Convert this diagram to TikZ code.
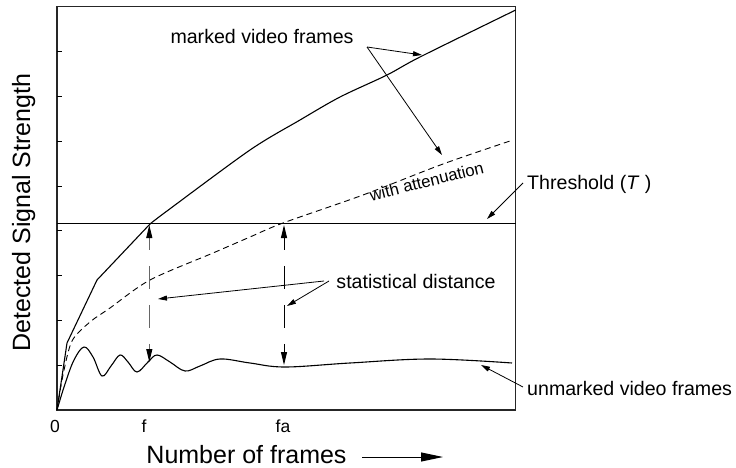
\documentclass[tikz,border=0pt]{standalone}
\usepackage{fontspec}
\setmainfont{Liberation Sans}
\usetikzlibrary{arrows.meta}
\begin{document}
\begin{tikzpicture}[x=1pt,y=-1pt,
  lbl/.style={inner sep=0pt, font=\fontsize{19.6}{22}\selectfont},
  axlbl/.style={inner sep=0pt, font=\fontsize{25}{30}\selectfont},
  ticklbl/.style={inner sep=0pt, font=\fontsize{17.5}{20}\selectfont},
  curve/.style={line width=1.1pt, line join=round},
  ann/.style={line width=0.8pt, -{Triangle[length=9pt,width=5pt]}},
  gaparrow/.style={line width=0.9pt, {Triangle[length=13pt,width=6pt,color=black]}-{Triangle[length=13pt,width=6pt,color=black]}, dash pattern=on 23pt off 16pt, dash phase=11pt},
]
\useasboundingbox (0,0) rectangle (736,468);
% frame
\draw[line width=1.4pt, draw=black!85] (57,6.5) rectangle (515.7,410);
\foreach \k in {1,...,8} \draw[line width=1pt] (57,{410-44.8*\k}) -- ++(5,0);
% threshold
\coordinate (thL) at (57,223.8);
\coordinate (thR) at (515.7,223.8);
\draw[line width=1.2pt] (thL) -- (thR);
% marked curve
\draw[curve] (57,410) -- (67,343) -- (97,280) -- (150,224)
  plot[smooth, tension=0.5] coordinates {(150,224) (167,211) (250,150) (300,120) (340,97) (387,75) (420,57) (515.7,10)};
% attenuated curve
\draw[curve, line width=0.9pt, dash pattern=on 6pt off 4pt]
  plot[smooth, tension=0.5] coordinates {(57,410) (63,375) (72,341) (90,322) (110,308) (150,280) (213,253) (250,237) (283,223) (363,195) (443,164) (513,140)};
% unmarked curve
\draw[curve]
  plot[smooth, tension=0.6] coordinates {(57,410) (65,384) (74,360) (84,347) (93,357) (102,376) (111,366) (120,355) (128,362) (137,372) (148,362) (157,355) (170,362) (185,371) (200,366) (220,359) (250,363) (285,367) (350,363) (430,359) (512,363)};
% statistical distance arrows
\coordinate (fT) at (149.3,225);
\coordinate (fB) at (149.3,362);
\coordinate (faT) at (284,225);
\coordinate (faB) at (284,365);
\draw[gaparrow, draw=black!60] (fT) -- (fB);
\draw[gaparrow] (faT) -- (faB);
% labels
\node[lbl, anchor=base] (mk) at (262,44) {marked video frames};
\coordinate (mkA) at (367,47);
\coordinate (mkT1) at (422,55);
\coordinate (mkT2) at (442,155);
\draw[ann] (mkA) -- (mkT1);
\draw[ann] (mkA) -- (mkT2);
\node[inner sep=0pt, font=\fontsize{16.7}{19}\selectfont, rotate=14, anchor=base] (wa) at (428,187) {with attenuation};
\node[lbl, anchor=base west] (th) at (527,189) {Threshold (\textit{T} )};
\coordinate (thA) at (523,183);
\coordinate (thT) at (487,219);
\draw[ann] (thA) -- (thT);
\node[lbl, anchor=base] (sd) at (416,288) {statistical distance};
\coordinate (sdA1) at (324,281);
\coordinate (sdA2) at (329,281);
\coordinate (sdT1) at (158,299);
\coordinate (sdT2) at (287,306);
\draw[ann] (sdA1) -- (sdT1);
\draw[ann] (sdA2) -- (sdT2);
\node[lbl, anchor=base west] (um) at (527,395) {unmarked video frames};
\coordinate (umA) at (523,387);
\coordinate (umT) at (481,365);
\draw[ann] (umA) -- (umT);
% tick labels
\node[ticklbl, anchor=base] (t0) at (55,432) {0};
\node[ticklbl, anchor=base] (tf) at (144,432) {f};
\node[ticklbl, anchor=base] (tfa) at (283,432) {fa};
% axis labels
\node[axlbl, anchor=base] (xl) at (246.5,463) {Number of frames};
\coordinate (xaS) at (362,457);
\coordinate (xaE) at (443,457);
\draw[line width=1pt, -{Triangle[length=22pt,width=9pt]}] (xaS) -- (xaE);
\node[axlbl, anchor=base, rotate=90] (yl) at (30,212.5) {Detected Signal Strength};
\end{tikzpicture}
\end{document}
